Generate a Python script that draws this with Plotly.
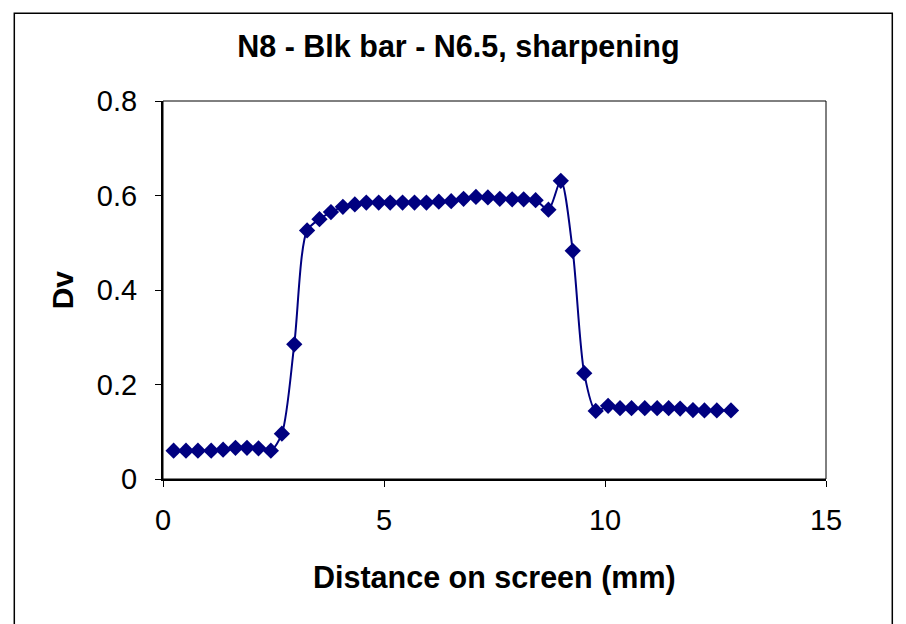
import plotly.graph_objects as go

# Data
distance_mm = [0.24, 0.52, 0.79, 1.09, 1.36, 1.64, 1.90, 2.16, 2.44, 2.69,
               2.97, 3.26, 3.54, 3.80, 4.07, 4.34, 4.60, 4.88, 5.14, 5.42,
               5.69, 5.96, 6.24, 6.52, 6.80, 7.08, 7.35, 7.62, 7.90, 8.16,
               8.43, 8.72, 9.00, 9.27, 9.53, 9.79, 10.07, 10.34, 10.60, 10.90,
               11.18, 11.44, 11.70, 11.99, 12.25, 12.53, 12.85]
dv = [0.060, 0.060, 0.060, 0.060, 0.062, 0.066, 0.066, 0.065, 0.060, 0.096,
      0.285, 0.526, 0.550, 0.565, 0.576, 0.581, 0.585, 0.585, 0.585, 0.585,
      0.585, 0.585, 0.587, 0.588, 0.593, 0.597, 0.596, 0.593, 0.592, 0.592,
      0.590, 0.570, 0.631, 0.483, 0.224, 0.144, 0.155, 0.150, 0.150, 0.150,
      0.150, 0.150, 0.149, 0.146, 0.145, 0.145, 0.145]

x_ticks = [0, 5, 10, 15]
y_ticks = [0, 0.2, 0.4, 0.6, 0.8]
y_tick_text = ["0", "0.2", "0.4", "0.6", "0.8"]

title_text = "N8 - Blk bar - N6.5, sharpening"
x_title = "Distance on screen (mm)"
y_title = "Dv"

NAVY = "#000080"
FONT = "Liberation Sans, Arial, sans-serif"

fig = go.Figure()
fig.add_trace(go.Scatter(
    x=distance_mm, y=dv, mode="lines+markers",
    line=dict(color=NAVY, width=2, shape="spline", smoothing=0.8),
    marker=dict(symbol="diamond", size=12.5, color=NAVY, line=dict(width=0)),
    showlegend=False, cliponaxis=False,
))

fig.update_layout(
    width=906, height=624,
    margin=dict(l=163, r=80, t=101, b=145),
    paper_bgcolor="white", plot_bgcolor="white",
    font=dict(family=FONT, color="black", size=29),
    title=dict(text="<b>" + title_text + "</b>", x=0.506, xanchor="center",
               y=1 - 46 / 624, yanchor="middle", xref="container", yref="container",
               font=dict(size=30.5, family=FONT, color="black")),
    xaxis=dict(range=[0, 15], tickvals=x_ticks, ticktext=[str(v) for v in x_ticks],
               showgrid=False, zeroline=False, showline=True, linecolor="black", linewidth=2,
               ticks="outside", ticklen=6, tickcolor="black", tickwidth=1,
               ticklabelstandoff=8, tickfont=dict(size=29, family=FONT)),
    yaxis=dict(range=[0, 0.8], tickvals=y_ticks, ticktext=y_tick_text,
               showgrid=False, zeroline=False, showline=True, linecolor="black", linewidth=2,
               ticks="outside", ticklen=6, tickcolor="black", tickwidth=1,
               ticklabelstandoff=12, tickfont=dict(size=29, family=FONT)),
    annotations=[
        dict(text="<b>" + x_title + "</b>", xref="paper", yref="paper",
             x=0.5, y=-(577 - 478.7) / 378, xanchor="center", yanchor="middle",
             showarrow=False, font=dict(size=30.5, family=FONT, color="black")),
        dict(text="<b>" + y_title + "</b>", xref="paper", yref="paper",
             x=(62 - 162.7) / 663, y=0.5, xanchor="center", yanchor="middle",
             textangle=-90, showarrow=False, font=dict(size=30, family=FONT, color="black")),
    ],
    shapes=[
        # plot-area frame (top/right thin lines)
        dict(type="rect", xref="paper", yref="paper", x0=0, x1=1, y0=0, y1=1,
             line=dict(color="black", width=1), layer="below"),
        # outer chart frame
        dict(type="rect", xref="paper", yref="paper",
             x0=(14 - 162.7) / 663, x1=(892 - 162.7) / 663,
             y0=(478.7 - 640) / 378, y1=(478.7 - 13) / 378,
             line=dict(color="black", width=1.5), layer="below"),
    ],
)

fig.write_html("out.html")
